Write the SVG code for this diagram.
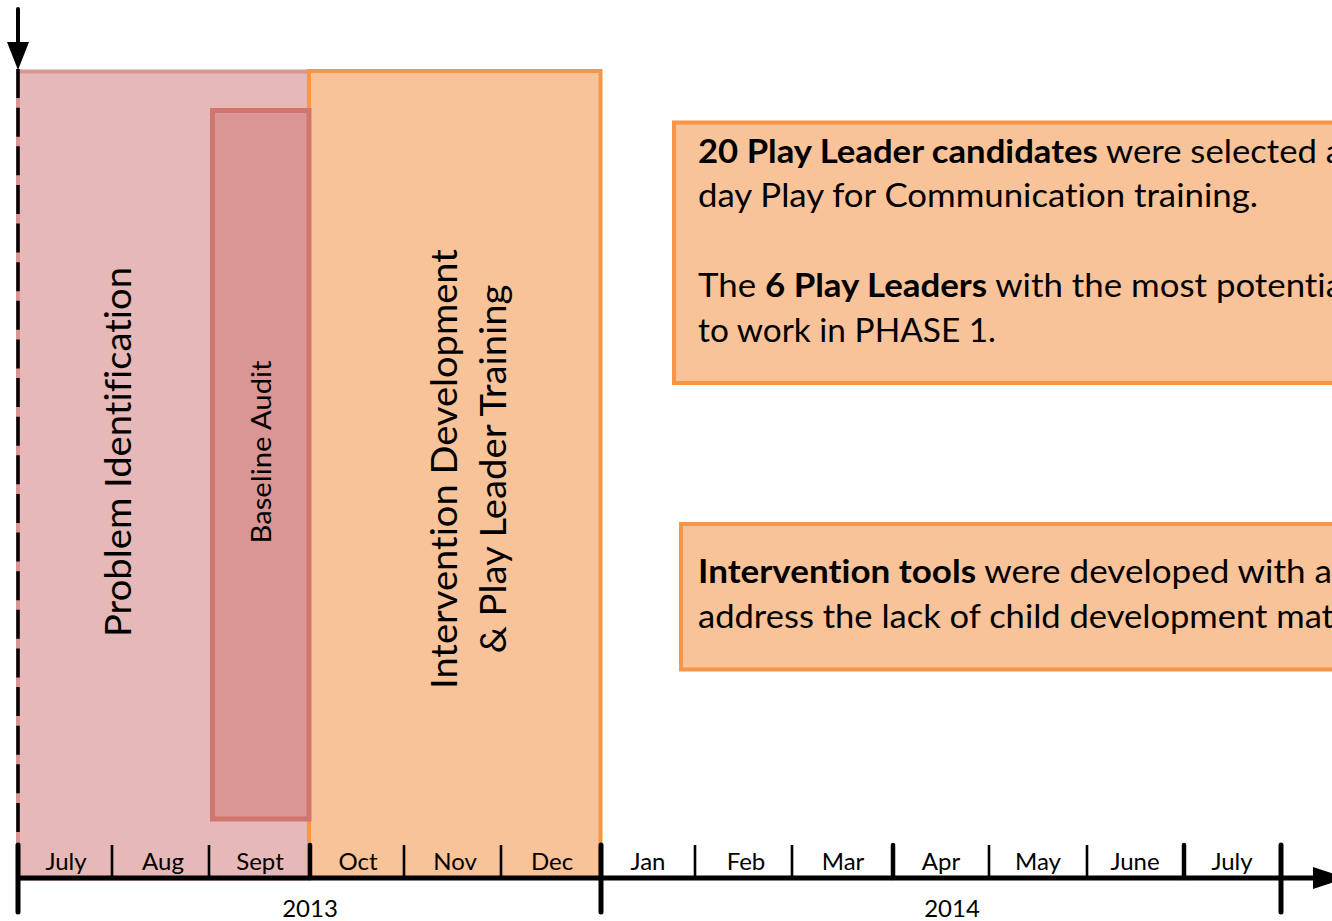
<svg xmlns="http://www.w3.org/2000/svg" width="1332" height="921" viewBox="0 0 1332 921">
  <style>
    .phase-pink { fill: #e6b8b7; stroke: #d99694; stroke-width: 4; }
    .phase-audit { fill: #d99694; stroke: #d0766f; stroke-width: 5; }
    .phase-orange { fill: #f9c39a; stroke: #f79646; stroke-width: 4; }
    .note { fill: #f9c39a; stroke: #f79646; stroke-width: 4; }
    .txt { font-family: Lato, "Liberation Sans", sans-serif; fill: #000; font-variant-ligatures: none; }
    .big { font-size: 36px; }
    .mid { font-size: 27px; }
    .note-txt { font-size: 33px; }
    .month { font-size: 24px; text-anchor: middle; }
    .axis { stroke: #000; fill: none; stroke-linecap: round; }
    .tick-thin { stroke: #000; stroke-width: 2.6; }
    .tick-mid { stroke: #000; stroke-width: 4.5; stroke-linecap: round; }
    .tick-long { stroke: #000; stroke-width: 5; stroke-linecap: round; }
    .b { font-weight: bold; }
  </style>

  <rect width="1332" height="921" fill="#ffffff"/>

  <!-- phase blocks -->
  <g id="phase-problem">
    <rect class="phase-pink" x="18" y="71.5" width="291" height="807"/>
    <text class="txt big" transform="translate(131,452) rotate(-90)" text-anchor="middle" textLength="370" lengthAdjust="spacingAndGlyphs">Problem Identification</text>
  </g>

  <g id="phase-intervention">
    <rect class="phase-orange" x="309" y="71" width="291.5" height="807"/>
    <text class="txt big" transform="translate(457,469) rotate(-90)" text-anchor="middle" textLength="440" lengthAdjust="spacingAndGlyphs">Intervention Development</text>
    <text class="txt big" transform="translate(506,469) rotate(-90)" text-anchor="middle" textLength="369" lengthAdjust="spacingAndGlyphs">&amp; Play Leader Training</text>
  </g>

  <g id="phase-audit">
    <rect class="phase-audit" x="212.5" y="110.5" width="96.5" height="708.5"/>
    <text class="txt mid" transform="translate(271,452) rotate(-90)" text-anchor="middle" textLength="183" lengthAdjust="spacingAndGlyphs">Baseline Audit</text>
  </g>

  <!-- notes -->
  <g id="note-training">
    <rect class="note" x="674" y="122.5" width="700" height="260.5"/>
    <text class="txt note-txt" x="698" y="163" textLength="645" lengthAdjust="spacingAndGlyphs"><tspan class="b">20 Play Leader candidates</tspan> were selected a</text>
    <text class="txt note-txt" x="698" y="207" textLength="560" lengthAdjust="spacingAndGlyphs">day Play for Communication training.</text>
    <text class="txt note-txt" x="698" y="297" textLength="645" lengthAdjust="spacingAndGlyphs">The <tspan class="b">6 Play Leaders</tspan> with the most potentia</text>
    <text class="txt note-txt" x="698" y="342" textLength="298" lengthAdjust="spacingAndGlyphs">to work in PHASE 1.</text>
  </g>

  <g id="note-tools">
    <rect class="note" x="681" y="524" width="700" height="145.5" stroke-width="3.5"/>
    <text class="txt note-txt" x="698" y="583" textLength="634" lengthAdjust="spacingAndGlyphs"><tspan class="b">Intervention tools</tspan> were developed with a</text>
    <text class="txt note-txt" x="698" y="628" textLength="636" lengthAdjust="spacingAndGlyphs">address the lack of child development mat</text>
  </g>

  <!-- timeline axis, start marker and ticks -->
  <g id="connectors">
    <!-- start marker: arrow into the dashed project-start line -->
    <line class="axis" x1="18" y1="9" x2="18" y2="45" stroke-width="4"/>
    <polygon points="7,42 29,42 18,70" fill="#000"/>
    <line x1="18" y1="69" x2="18" y2="833" stroke="#000" stroke-width="3.5" stroke-dasharray="29 9.63"/>

    <!-- horizontal time axis -->
    <line x1="18" y1="878" x2="1316" y2="878" stroke="#000" stroke-width="5"/>
    <polygon points="1313,867 1346,878 1313,889" fill="#000"/>

    <!-- year boundaries -->
    <line class="tick-long" x1="18" y1="845" x2="18" y2="912"/>
    <line class="tick-long" x1="601" y1="845" x2="601" y2="912"/>
    <line class="tick-long" x1="1281" y1="845" x2="1281" y2="912"/>

    <!-- quarter boundaries -->
    <line class="tick-mid" x1="310" y1="845" x2="310" y2="878"/>
    <line class="tick-mid" x1="893" y1="845" x2="893" y2="878"/>
    <line class="tick-mid" x1="1184" y1="845" x2="1184" y2="878"/>

    <!-- month boundaries -->
    <line class="tick-thin" x1="112" y1="845" x2="112" y2="877"/>
    <line class="tick-thin" x1="209" y1="845" x2="209" y2="877"/>
    <line class="tick-thin" x1="404" y1="845" x2="404" y2="877"/>
    <line class="tick-thin" x1="501" y1="845" x2="501" y2="877"/>
    <line class="tick-thin" x1="695" y1="845" x2="695" y2="877"/>
    <line class="tick-thin" x1="792" y1="845" x2="792" y2="877"/>
    <line class="tick-thin" x1="989" y1="845" x2="989" y2="877"/>
    <line class="tick-thin" x1="1087" y1="845" x2="1087" y2="877"/>
  </g>

  <!-- month and year labels -->
  <g id="labels">
    <text class="txt month" x="66" y="870">July</text>
    <text class="txt month" x="163" y="870">Aug</text>
    <text class="txt month" x="260" y="870">Sept</text>
    <text class="txt month" x="358" y="870">Oct</text>
    <text class="txt month" x="455" y="870">Nov</text>
    <text class="txt month" x="552" y="870">Dec</text>
    <text class="txt month" x="648" y="870">Jan</text>
    <text class="txt month" x="746" y="870">Feb</text>
    <text class="txt month" x="843" y="870">Mar</text>
    <text class="txt month" x="941" y="870">Apr</text>
    <text class="txt month" x="1038" y="870">May</text>
    <text class="txt month" x="1135" y="870">June</text>
    <text class="txt month" x="1232" y="870">July</text>
    <text class="txt month" x="310" y="917">2013</text>
    <text class="txt month" x="952" y="917">2014</text>
  </g>
</svg>
